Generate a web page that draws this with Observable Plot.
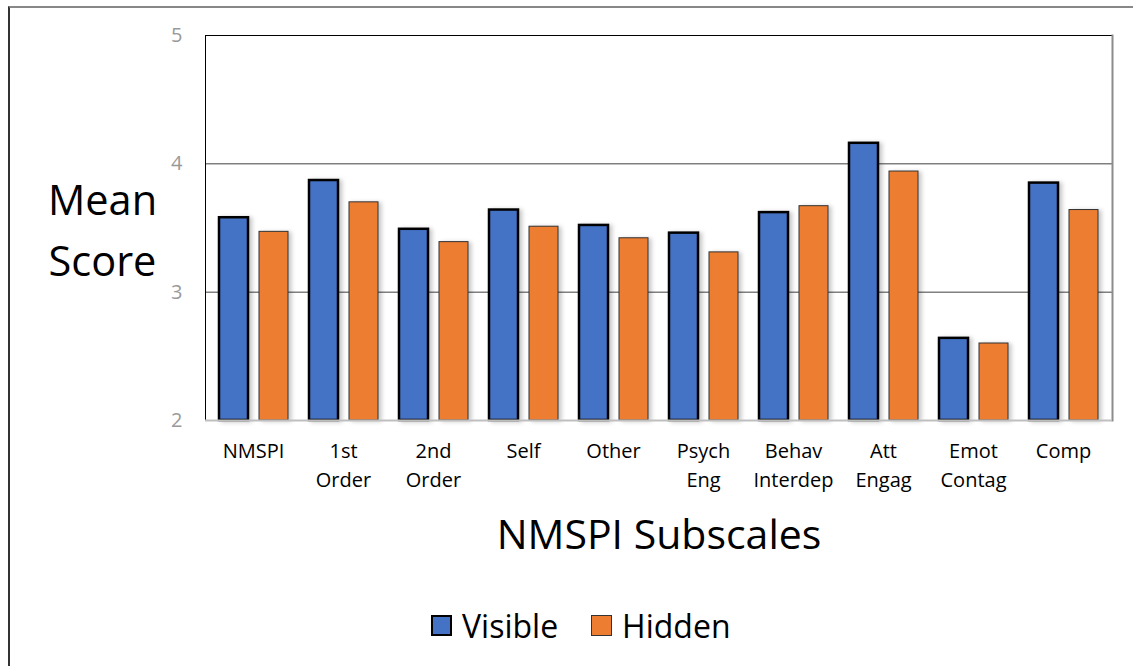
<!DOCTYPE html>
<html>
<head>
<meta charset="utf-8">
<script src="https://cdn.jsdelivr.net/npm/d3@7"></script>
<script src="https://cdn.jsdelivr.net/npm/@observablehq/plot@0.6"></script>
<style>
  html, body { margin: 0; padding: 0; background: #fff; overflow: hidden; }
  #wrap { position: relative; width: 1133px; height: 666px; font-family: "Open Sans", sans-serif; }
  #border { position: absolute; left: 8px; top: 6px; width: 1200px; height: 800px;
            border-left: 2px solid #333; border-top: 2px solid #888; box-sizing: border-box; }
  #chart { position: absolute; left: 0; top: 0; }
  #legend { position: absolute; left: 431px; top: 607px; height: 36px; display: flex; align-items: center;
            font-size: 32px; color: #000; }
  .sw { width: 17px; height: 17px; margin-right: 10px; box-sizing: content-box; }
  .item { display: flex; align-items: center; margin-right: 33px; }
</style>
</head>
<body>
<div id="wrap">
  <div id="border"></div>
  <div id="chart"></div>
  <div id="legend"></div>
</div>
<script>
const categories = ["NMSPI","1st Order","2nd Order","Self","Other","Psych Eng","Behav Interdep","Att Engag","Emot Contag","Comp"];
const tickLabels = ["NMSPI","1st\nOrder","2nd\nOrder","Self","Other","Psych\nEng","Behav\nInterdep","Att\nEngag","Emot\nContag","Comp"];
const visible = [3.58, 3.87, 3.49, 3.64, 3.52, 3.46, 3.62, 4.16, 2.64, 3.85];
const hidden  = [3.47, 3.70, 3.39, 3.51, 3.42, 3.31, 3.67, 3.94, 2.60, 3.64];
const yTicks = [2, 3, 4, 5];
const seriesNames = ["Visible", "Hidden"];
const seriesColors = ["#4472C4", "#ED7D31"];
const xTitle = "NMSPI Subscales";
const yTitle = "Mean\nScore";

const visData = categories.map((c, i) => ({cat: c, value: visible[i]}));
const hidData = categories.map((c, i) => ({cat: c, value: hidden[i]}));
const labelOf = new Map(categories.map((c, i) => [c, tickLabels[i]]));
const base = yTicks[0];

const shadow = "drop-shadow(3px 1px 2px rgba(0,0,0,0.22))";

const chart = Plot.plot({
  width: 1133,
  height: 575,
  marginLeft: 205,
  marginRight: 21,
  marginTop: 35,
  marginBottom: 155,
  style: {fontFamily: "Open Sans", fontSize: "20px", background: "transparent", overflow: "visible"},
  x: {domain: categories, paddingInner: 0.217, paddingOuter: 0.109, label: null},
  y: {domain: [2, 5], label: null},
  marks: [
    Plot.ruleY([3, 4], {stroke: "#404040", strokeWidth: 1}),
    Plot.barY(visData, {x: "cat", y1: () => base, y2: "value", fill: seriesColors[0],
      stroke: "#000", strokeWidth: 2.5, insetRight: 40, insetLeft: 1, imageFilter: shadow}),
    Plot.barY(hidData, {x: "cat", y1: () => base, y2: "value", fill: seriesColors[1],
      stroke: "#333", strokeWidth: 1, insetLeft: 41, insetRight: 0, imageFilter: shadow}),
    Plot.ruleY([5], {stroke: "#000", strokeWidth: 1}),
    Plot.frame({anchor: "left", stroke: "#000", strokeWidth: 1}),
    Plot.frame({anchor: "right", stroke: "#8c8c8c", strokeWidth: 2}),
    Plot.ruleY([2], {stroke: "#bfbfbf", strokeWidth: 2}),
    Plot.axisY({ticks: yTicks, tickSize: 0, tickPadding: 23, fill: "#999", fontSize: 20, tickFormat: d => String(d)}),
    Plot.axisX({tickSize: 0, tickPadding: 17, fontSize: 20, fill: "#000", lineHeight: 1.45,
      tickFormat: d => labelOf.get(d)}),
    Plot.text([xTitle], {frameAnchor: "bottom", dy: 115, fontSize: 41, lineAnchor: "middle", fill: "#000"}),
    Plot.text([yTitle], {frameAnchor: "left", dx: -103, dy: -2, fontSize: 41.5, lineHeight: 1.46,
      textAnchor: "middle", lineAnchor: "middle", fill: "#000"})
  ]
});
document.getElementById("chart").appendChild(chart);

const legend = document.getElementById("legend");
seriesNames.forEach((name, i) => {
  const item = document.createElement("div");
  item.className = "item";
  const sw = document.createElement("div");
  sw.className = "sw";
  sw.style.background = seriesColors[i];
  sw.style.border = i === 0 ? "2px solid #000" : "1px solid #333";
  if (i !== 0) { sw.style.width = "19px"; sw.style.height = "19px"; }
  const t = document.createElement("span");
  t.textContent = name;
  item.appendChild(sw);
  item.appendChild(t);
  legend.appendChild(item);
});
</script>
</body>
</html>
